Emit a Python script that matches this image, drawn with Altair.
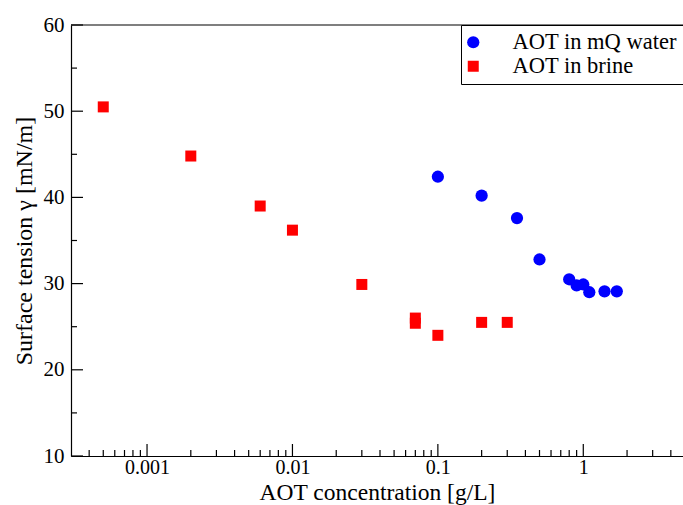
import altair as alt
import pandas as pd

# ---- data ----
series_names = ["AOT in mQ water", "AOT in brine"]
water_conc = [0.1, 0.2, 0.35, 0.5, 0.8, 0.9, 1.0, 1.1, 1.4, 1.7]
water_tension = [42.4, 40.2, 37.6, 32.8, 30.5, 29.8, 29.9, 29.0, 29.1, 29.1]
brine_conc = [0.0005, 0.002, 0.006, 0.01, 0.03, 0.07, 0.07, 0.1, 0.2, 0.3]
brine_tension = [50.5, 44.8, 39.0, 36.2, 29.9, 26.0, 25.4, 24.0, 25.5, 25.5]

# ---- axis ticks ----
x_major = [0.001, 0.01, 0.1, 1]
x_minor = [0.0004, 0.0005, 0.0006, 0.0007, 0.0008, 0.0009,
           0.002, 0.003, 0.004, 0.005, 0.006, 0.007, 0.008, 0.009,
           0.02, 0.03, 0.04, 0.05, 0.06, 0.07, 0.08, 0.09,
           0.2, 0.3, 0.4, 0.5, 0.6, 0.7, 0.8, 0.9,
           2, 3, 4]
y_major = [10, 20, 30, 40, 50, 60]
y_minor = [15, 25, 35, 45, 55]

FONT = "Liberation Serif, Times New Roman, Times, serif"
W, H = 612, 431

df = pd.DataFrame({
    "conc": water_conc + brine_conc,
    "tension": water_tension + brine_tension,
    "series": [series_names[0]] * len(water_conc) + [series_names[1]] * len(brine_conc),
})

xscale = alt.Scale(type="log", domain=[0.0003, 4.85], nice=False)
yscale = alt.Scale(domain=[10, 60], nice=False, zero=False)
xaxis = alt.Axis(values=x_major, format="~g", ticks=False, grid=False,
                 title="AOT concentration [g/L]", labelPadding=1,
                 titleBaseline="alphabetic", titleY=43,
                 domainColor="black", domainWidth=1.2,
                 labelFont=FONT, labelFontSize=20, labelColor="black",
                 titleFont=FONT, titleFontSize=23.5, titleFontWeight="normal", titleColor="black")
yaxis = alt.Axis(values=y_major, ticks=False, grid=False,
                 title="Surface tension γ [mN/m]", labelPadding=7,
                 titleBaseline="alphabetic", titleX=-40,
                 domainColor="black", domainWidth=1.2,
                 labelFont=FONT, labelFontSize=21, labelColor="black",
                 titleFont=FONT, titleFontSize=24, titleFontWeight="normal", titleColor="black")

legend = alt.Legend(orient="none", legendX=390, legendY=0,
                    fillColor="white", strokeColor="black", cornerRadius=0,
                    padding=6, rowPadding=1, symbolSize=64, symbolStrokeWidth=0,
                    symbolOffset=-5, labelOffset=28,
                    labelFont=FONT, labelFontSize=22.5, labelColor="black", labelLimit=400)

points = alt.Chart(df).mark_point(filled=True, opacity=1, strokeWidth=0).encode(
    x=alt.X("conc:Q", scale=xscale, axis=xaxis),
    y=alt.Y("tension:Q", scale=yscale, axis=yaxis),
    color=alt.Color("series:N", title=None, legend=legend,
                    scale=alt.Scale(domain=series_names, range=["#0000ff", "#ff0000"])),
    shape=alt.Shape("series:N", title=None, legend=legend,
                    scale=alt.Scale(domain=series_names, range=["circle", "square"])),
    size=alt.Size("series:N", legend=None,
                  scale=alt.Scale(domain=series_names, range=[150, 121])),
)

xt = pd.DataFrame({"conc": x_major + x_minor,
                   "len": [12] * len(x_major) + [6] * len(x_minor)})
yt = pd.DataFrame({"tension": y_major + y_minor,
                   "len": [12] * len(y_major) + [6] * len(y_minor)})

xmaj = alt.Chart(xt).transform_filter("datum.len == 12").mark_rule(color="black", strokeWidth=1.2).encode(
    x=alt.X("conc:Q", scale=xscale, axis=xaxis), y=alt.value(H), y2=alt.value(H - 12))
xmin = alt.Chart(xt).transform_filter("datum.len == 6").mark_rule(color="black", strokeWidth=1.2).encode(
    x=alt.X("conc:Q", scale=xscale, axis=xaxis), y=alt.value(H), y2=alt.value(H - 6))
ymaj = alt.Chart(yt).transform_filter("datum.len == 12").mark_rule(color="black", strokeWidth=1.2).encode(
    y=alt.Y("tension:Q", scale=yscale, axis=yaxis), x=alt.value(0), x2=alt.value(12))
ymin = alt.Chart(yt).transform_filter("datum.len == 6").mark_rule(color="black", strokeWidth=1.2).encode(
    y=alt.Y("tension:Q", scale=yscale, axis=yaxis), x=alt.value(0), x2=alt.value(6))
top = alt.Chart(pd.DataFrame({"tension": [60]})).mark_rule(color="black", strokeWidth=1.2).encode(
    y=alt.Y("tension:Q", scale=yscale, axis=yaxis), x=alt.value(0), x2=alt.value("width"))

chart = alt.layer(points, xmaj, xmin, ymaj, ymin, top).properties(
    width=W, height=H,
    autosize=alt.AutoSizeParams(type="none"),
    padding={"left": 71, "top": 25, "right": 0, "bottom": 49},
).configure_view(stroke=None)

chart.save("out.html", embed_options={"renderer": "svg", "actions": False})
